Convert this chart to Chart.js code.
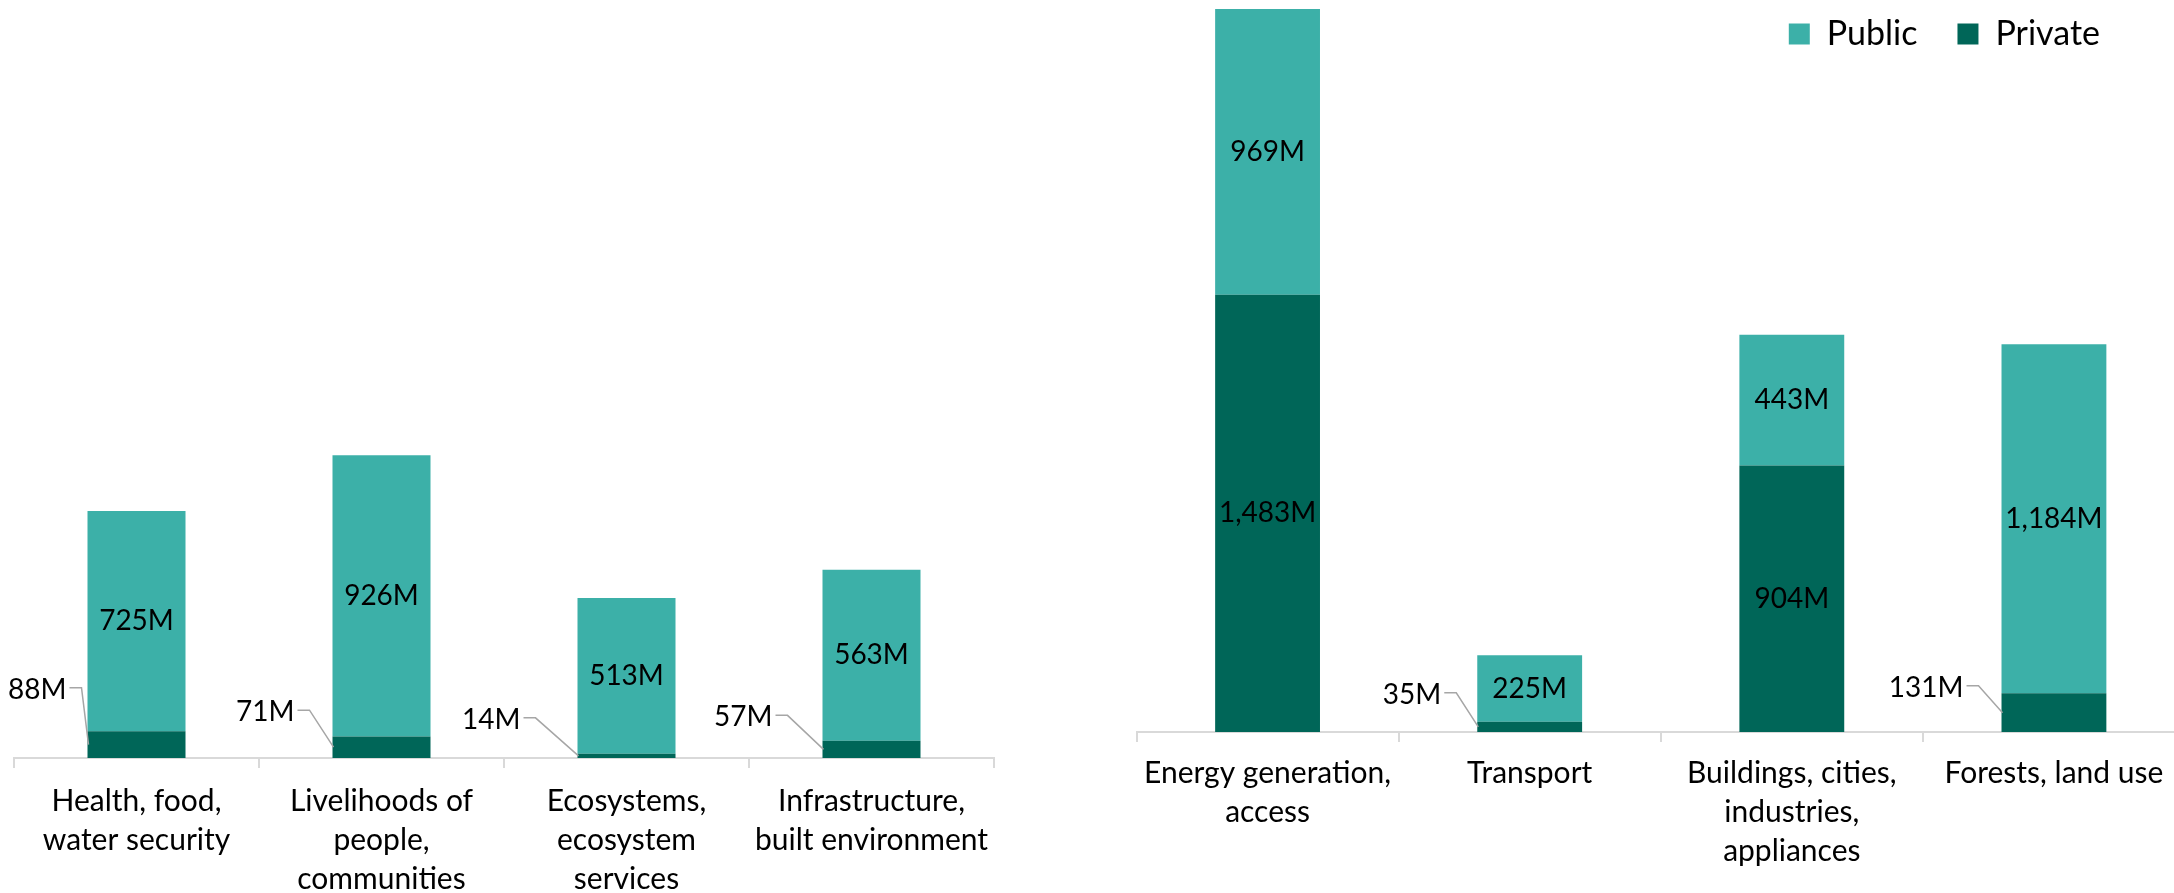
<!DOCTYPE html>
<html>
<head>
<meta charset="utf-8">
<script src="https://cdn.jsdelivr.net/npm/chart.js@4.4.1/dist/chart.umd.min.js"></script>
<style>
  html, body { margin: 0; padding: 0; background: #ffffff; width: 2174px; height: 893px; overflow: hidden; position: relative; }
  canvas { position: absolute; }
</style>
</head>
<body>
<canvas id="leftChart" width="1010" height="893" style="left:0px;top:0px;width:1010px;height:893px"></canvas>
<canvas id="rightChart" width="1100" height="893" style="left:1100px;top:0px;width:1100px;height:893px"></canvas>
<canvas id="legendChart" width="440" height="240" style="left:1700px;top:-23px;width:440px;height:240px"></canvas>
<script>
// ---- data ----
const adaptationCategories = [
  ['Health, food,', 'water security'],
  ['Livelihoods of', 'people,', 'communities'],
  ['Ecosystems,', 'ecosystem', 'services'],
  ['Infrastructure,', 'built environment']
];
const adaptationPublic = [725, 926, 513, 563];
const adaptationPrivate = [88, 71, 14, 57];

const mitigationCategories = [
  ['Energy generation,', 'access'],
  ['Transport'],
  ['Buildings, cities,', 'industries,', 'appliances'],
  ['Forests, land use']
];
const mitigationPublic = [969, 225, 443, 1184];
const mitigationPrivate = [1483, 35, 904, 131];

const seriesNames = ['Public', 'Private'];

// ---- styles ----
const colorPublic = '#3CB0A8';
const colorPrivate = '#006658';
const axisColor = '#d9d9d9';
const fontFamily = 'Lato, "Open Sans", sans-serif';
// callout label offsets for thin private segments: [text right edge - bar left edge, text centre - segment centre]
const leftCallouts = [[-21, -55], [-38, -35], [-57, -36], [-50, -32]];
const rightCallouts = [null, [-36, -32], null, [-38, -25]];

Chart.defaults.font.family = fontFamily;

function fmt(v) { return v.toLocaleString('en-US') + 'M'; }

function segmentLabels(callouts) {
  return {
    id: 'segmentLabels',
    afterDatasetsDraw(chart) {
      const ctx = chart.ctx;
      ctx.save();
      ctx.font = '28px ' + fontFamily;
      ctx.fillStyle = '#000000';
      ctx.textBaseline = 'middle';
      chart.data.datasets.forEach((ds, di) => {
        const meta = chart.getDatasetMeta(di);
        meta.data.forEach((bar, i) => {
          const text = fmt(ds.data[i]);
          const top = Math.min(bar.y, bar.base);
          const bottom = Math.max(bar.y, bar.base);
          const cy = (top + bottom) / 2;
          const off = ds.label === 'Private' ? callouts[i] : null;
          if (off) {
            const left = bar.x - bar.width / 2;
            const tx = left + off[0];
            const ty = cy + off[1];
            ctx.textAlign = 'right';
            ctx.fillText(text, tx, ty);
            ctx.strokeStyle = '#a6a6a6';
            ctx.lineWidth = 1.5;
            ctx.beginPath();
            ctx.moveTo(tx + 3, ty - 2);
            ctx.lineTo(tx + 15, ty - 2);
            ctx.lineTo(left + 1, cy);
            ctx.stroke();
          } else {
            ctx.textAlign = 'center';
            ctx.fillText(text, bar.x, cy);
          }
        });
      });
      ctx.restore();
    }
  };
}

function barChart(canvasId, categories, privateVals, publicVals, yMax, pad, axisHeight, tickPad, callouts) {
  return new Chart(document.getElementById(canvasId), {
    type: 'bar',
    data: {
      labels: categories,
      datasets: [
        { label: seriesNames[1], data: privateVals, backgroundColor: colorPrivate, borderWidth: 0 },
        { label: seriesNames[0], data: publicVals, backgroundColor: colorPublic, borderWidth: 0 }
      ]
    },
    options: {
      responsive: false,
      animation: false,
      devicePixelRatio: 1,
      layout: { padding: pad },
      datasets: { bar: { categoryPercentage: 1.0, barPercentage: 0.4 } },
      scales: {
        x: {
          stacked: true,
          offset: true,
          grid: { offset: true, drawOnChartArea: false, drawTicks: true, tickLength: 10, color: axisColor, lineWidth: 2 },
          border: { display: true, color: axisColor, width: 2 },
          ticks: { autoSkip: false, maxRotation: 0, minRotation: 0, color: '#000000', padding: tickPad,
                   font: { size: 30, family: fontFamily, lineHeight: 1.3 } },
          afterFit(scale) { scale.height = axisHeight; }
        },
        y: { stacked: true, display: false, min: 0, max: yMax }
      },
      plugins: { legend: { display: false }, tooltip: { enabled: false } }
    },
    plugins: [segmentLabels(callouts)]
  });
}

function draw() {
  barChart('leftChart', adaptationCategories, adaptationPrivate, adaptationPublic, 2469,
           { left: 14, right: 16, top: 8, bottom: 0 }, 135, 14, leftCallouts);
  barChart('rightChart', mitigationCategories, mitigationPrivate, mitigationPublic, 2455,
           { left: 36.5, right: 15, top: 8, bottom: 0 }, 161, 12, rightCallouts);

  new Chart(document.getElementById('legendChart'), {
    type: 'bar',
    data: {
      labels: [],
      datasets: [
        { label: seriesNames[1], data: [], backgroundColor: colorPrivate, borderWidth: 0 },
        { label: seriesNames[0], data: [], backgroundColor: colorPublic, borderWidth: 0 }
      ]
    },
    options: {
      responsive: false,
      animation: false,
      devicePixelRatio: 1,
      layout: { padding: 0 },
      scales: { x: { display: false }, y: { display: false } },
      plugins: {
        tooltip: { enabled: false },
        legend: {
          position: 'top', align: 'end', reverse: true,
          labels: { color: '#000000', boxWidth: 21, boxHeight: 21, padding: 40,
                    font: { size: 34, family: fontFamily } }
        }
      }
    }
  });
}

if (document.fonts && document.fonts.load) {
  Promise.all([document.fonts.load('30px Lato'), document.fonts.load('34px Lato')]).then(draw, draw);
} else {
  draw();
}
</script>
</body>
</html>
